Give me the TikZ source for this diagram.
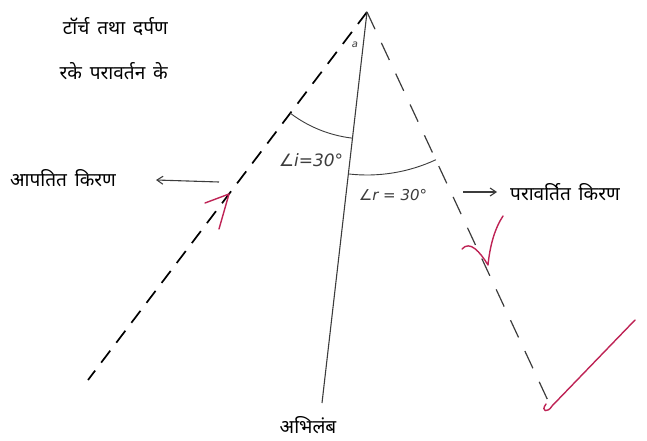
\documentclass[tikz,border=0pt]{standalone}
\usepackage{fontspec}
\newfontfamily\hindi[Script=Devanagari, WordSpace=1.6]{Noto Sans}
\newfontfamily\handfont{DejaVu Sans}
\usetikzlibrary{arrows.meta,calc}
\definecolor{tickred}{RGB}{190,35,85}
\definecolor{pencil}{RGB}{60,60,60}
\begin{document}
\begin{tikzpicture}[x=1pt, y=-1pt,
        hinditext/.style={font=\hindi\fontsize{19}{22}\selectfont, inner sep=0pt},
        anglelabel/.style={font=\handfont\itshape\fontsize{17}{19}\selectfont, inner sep=0pt, text=pencil},
        incray/.style={line width=1.7pt, dash pattern=on 15pt off 10pt},
        refray/.style={line width=1.2pt, pencil, dash pattern=on 19pt off 15pt},
        normalline/.style={line width=1.1pt, pencil},
        anglearc/.style={line width=0.9pt, pencil},
        pointer/.style={-{Straight Barb[length=6pt,width=8pt]}, line width=1.1pt, pencil},
        redmark/.style={line width=1.4pt, tickred, line cap=round, line join=round},
    ]
    \useasboundingbox (0,0) rectangle (647,441);

    % ===== Ray end points =====
    \coordinate (O) at (367,12);   % point of incidence
    \coordinate (A) at (88,380);   % incident ray end
    \coordinate (N) at (322,403);  % normal foot
    \coordinate (B) at (550,405);  % reflected ray end

    % ===== Rays and normal =====
    \draw[incray] (O) -- (A);
    \draw[normalline] (O) -- (N);
    \draw[refray] (O) -- (B);

    % ===== Angle arcs =====
    \draw[anglearc] ($(O)+(127.2:127)$) arc[start angle=127.2, end angle=96.6, radius=127];
    \draw[anglearc] ($(O)+(96.6:163)$) arc[start angle=96.6, end angle=65.0, radius=163];
    \node[anglelabel] (ai) at (311,160) {∠i=30°};
    \node[anglelabel, font=\handfont\itshape\fontsize{15}{17}\selectfont] (ar) at (393,195) {∠r = 30°};
    \node[anglelabel, font=\handfont\itshape\fontsize{10}{12}\selectfont] (aa) at (355,45) {a};

    % ===== Labels =====
    \node[hinditext, anchor=east] (l1) at (168,27) {टॉर्च तथा दर्पण};
    \node[hinditext, anchor=east] (l2) at (168,71) {रके परावर्तन के};
    \node[hinditext, anchor=west] (inc) at (10,178) {आपतित किरण};
    \node[hinditext, anchor=west] (ref) at (510,192) {परावर्तित किरण};
    \node[hinditext, anchor=south] (nor) at (308,434) {अभिलंब};

    % ===== Pointers =====
    \coordinate (p1) at (219,182);
    \coordinate (p1e) at (156,180);
    \coordinate (p2) at (463,192);
    \coordinate (p2e) at (497,192);
    \draw[pointer] (p1) -- (p1e);
    \draw[pointer] (p2) -- (p2e);

    % ===== Red marks =====
    \draw[redmark] (205,203) -- (229,194) -- (219,229);
    \draw[redmark] (462,249) .. controls (470,240) and (480,252) .. (488,265) .. controls (490,245) and (495,228) .. (503,216);
    \draw[redmark] (546,404) .. controls (540,412) and (548,413) .. (552,406) -- (635,320);

\end{tikzpicture}
\end{document}
